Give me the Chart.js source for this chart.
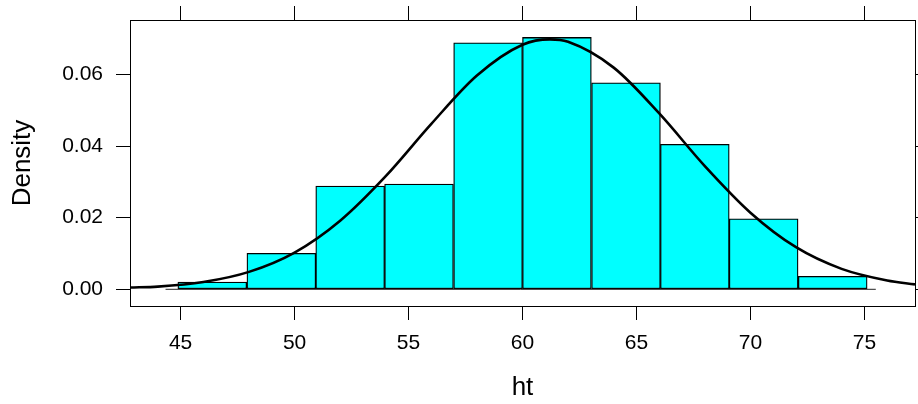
<!DOCTYPE html>
<html>
<head>
<meta charset="utf-8">
<script src="https://cdn.jsdelivr.net/npm/chart.js@4/dist/chart.umd.min.js"></script>
<style>
  html, body { margin: 0; padding: 0; background: #fff; overflow: hidden; }
  #wrap { position: relative; width: 932px; height: 404px; }
</style>
</head>
<body>
<div id="wrap"><canvas id="myChart"></canvas></div>
<script>

// histogram of ht: bin centres and density heights
var binMids = [46.39, 49.42, 52.44, 55.46, 58.49, 61.51, 64.54, 67.56, 70.58, 73.61];
var binDensity = [0.00204, 0.01005, 0.02883, 0.02939, 0.06883, 0.07033, 0.05766, 0.04047, 0.0197, 0.00363];

// fitted density curve
var curveX = [42.78, 44, 46, 48, 50, 52, 54, 56, 58, 60, 61.2, 62, 64, 66, 68, 70, 72, 74, 76, 77.22];
var curveY = [0.0005, 0.00076, 0.00204, 0.00487, 0.01026, 0.01916, 0.0316, 0.0462, 0.0597, 0.0683, 0.0698,
              0.0691, 0.0619, 0.0491, 0.0344, 0.0214, 0.01175, 0.00571, 0.00246, 0.00137];

// line along zero under the bars
var baseX = [44.34, 75.5];
var baseY = [0, 0];

var xTicks = [45, 50, 55, 60, 65, 70, 75];
var yTicks = [0, 0.02, 0.04, 0.06];

Chart.defaults.font.family = "'Liberation Sans', Arial, sans-serif";
Chart.defaults.color = '#000';

function pts(xs, ys) {
    var out = [];
    for (var i = 0; i != xs.length; i++) out.push({ x: xs[i], y: ys[i] });
    return out;
}

// force axis box sizes so the plot frame sits where the lattice one does
function fixSize(w, h) {
    return function (scale) {
        if (w != null) scale.width = w;
        if (h != null) scale.height = h;
        scale.paddingTop = 0;
        scale.paddingBottom = 0;
        scale.paddingLeft = 0;
        scale.paddingRight = 0;
    };
}

var X_MIN = 42.78, X_MAX = 77.22;
var Y_MIN = -0.00466, Y_MAX = 0.0752;

var tickGrid = {
    drawOnChartArea: false,
    drawTicks: true,
    tickLength: 14,
    tickColor: '#000',
    tickWidth: 1,
    offset: false
};
var frame = { display: true, color: '#000', width: 1 };

var config = {
    type: 'bar',
    data: {
        datasets: [
            {
                type: 'line',
                data: pts(curveX, curveY),
                borderColor: '#000',
                borderWidth: 2.6,
                pointRadius: 0,
                cubicInterpolationMode: 'monotone',
                fill: false,
                order: 0,
                xAxisID: 'x',
                yAxisID: 'y'
            },
            {
                type: 'line',
                data: pts(baseX, baseY),
                borderColor: '#222',
                borderWidth: 1,
                pointRadius: 0,
                fill: false,
                order: 1,
                xAxisID: 'x',
                yAxisID: 'y'
            },
            {
                type: 'bar',
                data: pts(binMids, binDensity),
                backgroundColor: '#00FFFF',
                borderColor: '#000',
                borderWidth: 1.3,
                borderSkipped: false,
                barPercentage: 1,
                categoryPercentage: 1,
                order: 2,
                xAxisID: 'x',
                yAxisID: 'y'
            }
        ]
    },
    options: {
        responsive: true,
        maintainAspectRatio: false,
        animation: false,
        layout: { padding: 0 },
        plugins: { legend: { display: false }, tooltip: { enabled: false } },
        scales: {
            x: {
                type: 'linear',
                position: 'bottom',
                min: X_MIN, max: X_MAX,
                offset: false,
                grid: tickGrid,
                border: frame,
                afterBuildTicks: function (s) { s.ticks = xTicks.map(function (v) { return { value: v }; }); },
                ticks: { font: { size: 21 }, padding: 11, maxRotation: 0, autoSkip: false },
                title: { display: true, text: 'ht', font: { size: 26 }, padding: { top: 0, bottom: 1 } },
                afterFit: fixSize(null, 98)
            },
            x2: {
                type: 'linear',
                position: 'top',
                min: X_MIN, max: X_MAX,
                offset: false,
                grid: tickGrid,
                border: frame,
                afterBuildTicks: function (s) { s.ticks = xTicks.map(function (v) { return { value: v }; }); },
                ticks: { display: false },
                afterFit: fixSize(null, 20)
            },
            y: {
                type: 'linear',
                position: 'left',
                min: Y_MIN, max: Y_MAX,
                grid: tickGrid,
                border: frame,
                afterBuildTicks: function (s) { s.ticks = yTicks.map(function (v) { return { value: v }; }); },
                ticks: { font: { size: 21 }, padding: 13, callback: function (v) { return v.toFixed(2); } },
                title: { display: true, text: 'Density', font: { size: 26 }, padding: { top: 7, bottom: 0 } },
                afterFit: fixSize(130, null)
            },
            y2: {
                type: 'linear',
                position: 'right',
                min: Y_MIN, max: Y_MAX,
                grid: tickGrid,
                border: frame,
                afterBuildTicks: function (s) { s.ticks = yTicks.map(function (v) { return { value: v }; }); },
                ticks: { display: false },
                afterFit: fixSize(17, null)
            }
        }
    }
};

new Chart(document.getElementById('myChart'), config);
</script>
</body>
</html>
